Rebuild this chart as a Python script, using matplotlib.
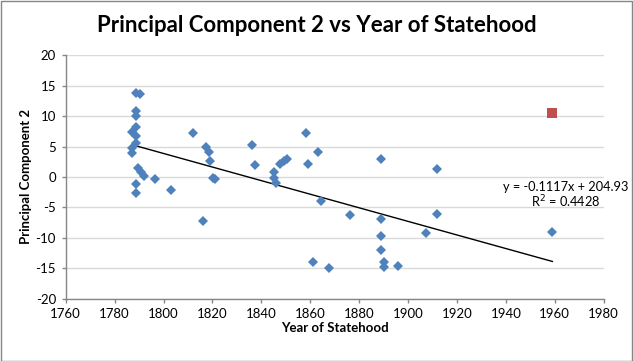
import numpy as np
import matplotlib
matplotlib.use('Agg')
import matplotlib.pyplot as plt
from matplotlib.patches import Rectangle

plt.rcParams['font.family'] = ['Lato', 'DejaVu Sans']
plt.rcParams['axes.unicode_minus'] = False

# year of statehood vs principal component 2
years = [1788.8, 1790.5, 1788.6, 1788.6, 1788.6, 1787.2, 1788.6, 1788.6, 1787.0, 1787.2,
         1789.4, 1790.8, 1792.2, 1788.6, 1788.6, 1796.4, 1803.2, 1812.2, 1816.3, 1817.5,
         1818.4, 1819.2, 1820.4, 1821.0, 1836.2, 1837.3, 1845.2, 1845.2, 1846.0, 1847.6,
         1849.3, 1850.4, 1858.3, 1859.2, 1861.3, 1863.3, 1864.3, 1867.6, 1876.3, 1889.0,
         1889.0, 1889.0, 1889.0, 1890.2, 1890.2, 1896.0, 1907.2, 1912.0, 1912.0, 1959.0]
pc2 = [13.8, 13.6, 10.9, 10.1, 8.2, 7.35, 6.8, 5.6, 4.85, 4.0,
       1.4, 0.85, 0.15, -1.2, -2.6, -0.25, -2.2, 7.2, -7.3, 5.0,
       4.05, 2.6, -0.1, -0.3, 5.2, 1.97, 0.77, -0.1, -1.05, 2.14,
       2.63, 2.96, 7.2, 2.08, -13.9, 4.06, -3.9, -15.0, -6.3, 2.9,
       -6.85, -9.75, -12.05, -13.9, -14.75, -14.6, -9.27, 1.37, -6.14, -9.0]

# the highlighted point
outlier_year = [1959]
outlier_pc2 = [10.6]

# linear trend shown on the chart
slope = -0.1117
intercept = 204.93
r_squared = 0.4428

x_ticks = list(range(1760, 1981, 20))
y_ticks = list(range(-20, 21, 5))

blue = '#4F81BD'
red = '#C0504D'
grey = '#868686'

fig = plt.figure(figsize=(6.33, 3.61), dpi=100)
ax = fig.add_axes([65.7 / 633, 1 - 298.6 / 361, (603.7 - 65.7) / 633, (298.6 - 55.4) / 361])

ax.grid(axis='y', color='#D9D9D9', linewidth=1)
ax.set_axisbelow(True)

trend_x = np.array([min(years), max(years)])
ax.plot(trend_x, slope * trend_x + intercept, color='black', linewidth=1, zorder=2)

ax.plot(years, pc2, linestyle='none', marker='D', markersize=5.6,
        color=blue, markeredgewidth=0, zorder=3)
ax.plot(outlier_year, outlier_pc2, linestyle='none', marker='s', markersize=7.2,
        color=red, markeredgewidth=0, zorder=3)

ax.set_xlim(1760, 1980)
ax.set_ylim(-20, 20)
ax.set_xticks(x_ticks)
ax.set_yticks(y_ticks)
ax.tick_params(direction='out', length=3, width=1, color=grey, labelsize=9.5, pad=4)

for side in ['top', 'right']:
    ax.spines[side].set_visible(False)
for side in ['left', 'bottom']:
    ax.spines[side].set_color(grey)
    ax.spines[side].set_linewidth(1)

fig.text(335 / 633, 1 - 328 / 361, 'Year of Statehood', ha='center', va='center',
         fontsize=9.5, fontweight='bold')
fig.text(26 / 633, 1 - 177 / 361, 'Principal Component 2', ha='center', va='center',
         rotation=90, fontsize=9.5, fontweight='bold')
fig.text(317 / 633, 1 - 25 / 361, 'Principal Component 2 vs Year of Statehood',
         ha='center', va='center', fontsize=16, fontweight='bold')

fig.text(503 / 633, 1 - 187 / 361, f'y = {slope}x + {intercept}', ha='left', va='center',
         fontsize=9.2)
fig.text(531 / 633, 1 - 202 / 361, f'R$^2$ = {r_squared}', ha='left', va='center',
         fontsize=9.2)

fig.patches.append(Rectangle((0.5 / 633, 0.5 / 361), 631.5 / 633, 359.5 / 361,
                             transform=fig.transFigure, fill=False,
                             edgecolor=grey, linewidth=1))

fig.savefig('out.png', dpi=100)
